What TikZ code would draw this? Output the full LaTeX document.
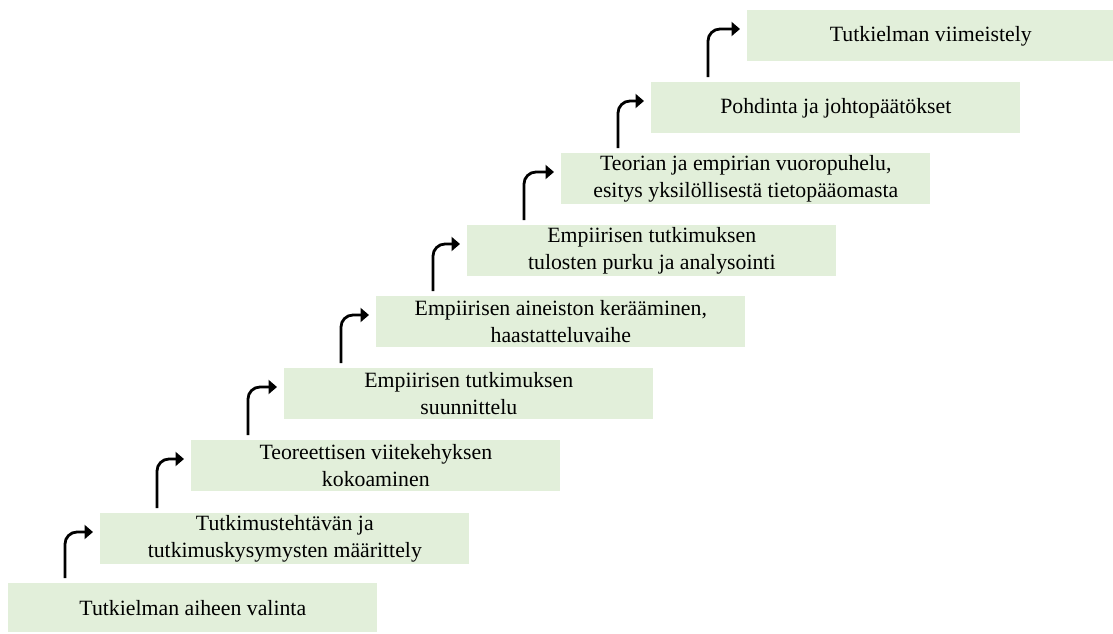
\documentclass[tikz,border=0pt]{standalone}
\usepackage{fontspec}
\setmainfont{Liberation Serif}
\usetikzlibrary{arrows.meta,calc}
\definecolor{stepfill}{HTML}{E2EFDA}
\tikzset{
  stepbox/.style={fill=stepfill, draw=none, anchor=north west,
    minimum width=7.38cm, minimum height=1.02cm, inner sep=0pt,
    align=center, font=\fontsize{12.4pt}{15.3pt}\selectfont},
  uparrow/.style={line width=1.6pt, rounded corners=0.24cm,
    -{Triangle[length=0.17cm,width=0.28cm]}}
}
\begin{document}
\begin{tikzpicture}[x=0.02cm,y=-0.02cm]
\useasboundingbox (0,0) rectangle (1113,633);
\node[stepbox, minimum height=0.98cm] (b1) at (8,583) {Tutkielman aiheen valinta};
\node[stepbox] (b2) at (100,513) {Tutkimustehtävän ja\\tutkimuskysymysten määrittely};
\node[stepbox] (b3) at (191,440) {Teoreettisen viitekehyksen\\kokoaminen};
\node[stepbox] (b4) at (284,368) {Empiirisen tutkimuksen\\suunnittelu};
\node[stepbox] (b5) at (376,296) {Empiirisen aineiston kerääminen,\\haastatteluvaihe};
\node[stepbox] (b6) at (467,225) {Empiirisen tutkimuksen\\tulosten purku ja analysointi};
\node[stepbox] (b7) at (561,153) {Teorian ja empirian vuoropuhelu,\\esitys yksilöllisestä tietopääomasta};
\node[stepbox] (b8) at (651,82) {Pohdinta ja johtopäätökset};
\node[stepbox, minimum width=7.34cm] (b9) at (747,10) {Tutkielman viimeistely};
\foreach \lo/\hi in {b1/b2,b2/b3,b3/b4,b4/b5,b5/b6,b6/b7,b7/b8,b8/b9}{
  \draw[uparrow] ($(\lo.north west)+(57,-5)$) |- ($(\hi.north west)+(-7,19)$);
}
\end{tikzpicture}
\end{document}
